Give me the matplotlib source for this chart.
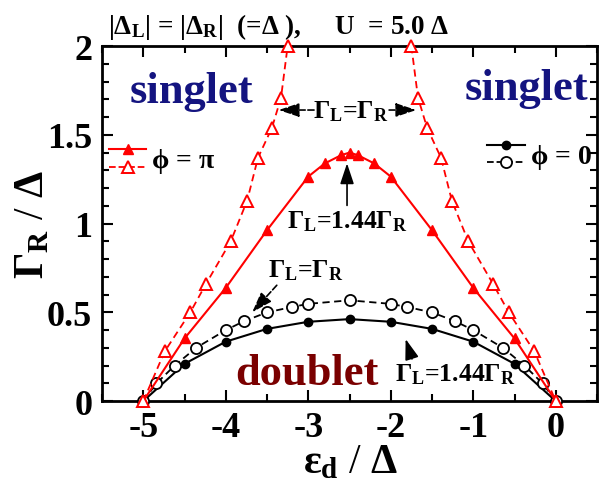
import matplotlib
matplotlib.use('Agg')
import matplotlib.pyplot as plt
import matplotlib.ticker as ticker
from matplotlib.lines import Line2D
from matplotlib.legend_handler import HandlerBase

plt.rcParams['font.family'] = ['Liberation Serif', 'DejaVu Serif']
plt.rcParams['font.weight'] = 'bold'
plt.rcParams['axes.unicode_minus'] = False
plt.rcParams['mathtext.fontset'] = 'custom'
plt.rcParams['mathtext.rm'] = 'Liberation Serif:bold'
plt.rcParams['mathtext.it'] = 'Liberation Serif:bold'
plt.rcParams['mathtext.bf'] = 'Liberation Serif:bold'

# phi = 0, Gamma_L = 1.44 Gamma_R
eps_c144 = [-5, -4.5, -4, -3.5, -3, -2.5, -2, -1.5, -1, -0.5, 0]
gam_c144 = [0, 0.21, 0.335, 0.407, 0.447, 0.462, 0.447, 0.407, 0.335, 0.21, 0]
# phi = 0, Gamma_L = Gamma_R
eps_c1 = [-5, -4.84, -4.62, -4.36, -4.0, -3.78, -3.5, -3.2, -3.0, -2.5,
          -2.0, -1.8, -1.5, -1.22, -1.0, -0.64, -0.38, -0.16, 0]
gam_c1 = [0, 0.1, 0.2, 0.3, 0.4, 0.45, 0.5, 0.53, 0.548, 0.568,
          0.548, 0.53, 0.5, 0.45, 0.4, 0.3, 0.2, 0.1, 0]
# phi = pi, Gamma_L = 1.44 Gamma_R
eps_t144 = [-5, -4.5, -4, -3.5, -3, -2.8, -2.6, -2.5, -2.4, -2.2, -2, -1.5, -1, -0.5, 0]
gam_t144 = [0, 0.353, 0.638, 0.963, 1.265, 1.339, 1.386, 1.40, 1.386, 1.339, 1.265,
            0.963, 0.638, 0.353, 0]
# phi = pi, Gamma_L = Gamma_R (two branches, both leave through the top)
eps_t1_lo = [-5, -4.74, -4.43, -4.24, -3.94, -3.74, -3.61, -3.44, -3.33, -3.25]
gam_t1_lo = [0, 0.28, 0.5, 0.66, 0.9, 1.13, 1.37, 1.54, 1.71, 2.0]
eps_t1_hi = [-1.75, -1.67, -1.56, -1.39, -1.26, -1.06, -0.76, -0.57, -0.26, 0]
gam_t1_hi = [2.0, 1.71, 1.54, 1.37, 1.13, 0.9, 0.66, 0.5, 0.28, 0]

xticks = [-5, -4, -3, -2, -1, 0]
yticks = [0, 0.5, 1, 1.5, 2]

RED = '#ff0000'
DASH = (0, (4, 2.5))


class StackedHandler(HandlerBase):
    # draws a tuple of lines on top of each other inside one legend entry
    def create_artists(self, legend, orig_handle, xdescent, ydescent,
                       width, height, fontsize, trans):
        out = []
        n = len(orig_handle)
        for i, h in enumerate(orig_handle):
            y = height * (n - i - 0.5) / n - ydescent
            ln = Line2D([-xdescent, width - xdescent], [y, y], color=h.get_color(),
                        linestyle=h.get_linestyle(), linewidth=h.get_linewidth())
            mk = Line2D([width / 2 - xdescent], [y], linestyle='none',
                        marker=h.get_marker(), markersize=h.get_markersize(),
                        markerfacecolor=h.get_markerfacecolor(),
                        markeredgecolor=h.get_markeredgecolor(),
                        markeredgewidth=h.get_markeredgewidth())
            for a in (ln, mk):
                a.set_transform(trans)
                out.append(a)
        return out


fig = plt.figure(figsize=(6.05, 4.81), dpi=100)
ax = fig.add_axes([0.1686, 0.164, 0.8182, 0.738])

l_c144, = ax.plot(eps_c144, gam_c144, color='black', lw=1.5, marker='o', ms=6,
                  mfc='black', mec='black', clip_on=False, zorder=3)
l_c1, = ax.plot(eps_c1, gam_c1, color='black', lw=1.3, ls=DASH, marker='o', ms=8,
                mfc='white', mec='black', mew=1.3, clip_on=False, zorder=3)
l_t144, = ax.plot(eps_t144, gam_t144, color=RED, lw=1.5, marker='^', ms=7,
                  mfc=RED, mec=RED, clip_on=False, zorder=4)
l_t1, = ax.plot(eps_t1_lo, gam_t1_lo, color=RED, lw=1.3, ls=DASH, marker='^', ms=9,
                mfc='white', mec=RED, mew=1.4, clip_on=False, zorder=5)
ax.plot(eps_t1_hi, gam_t1_hi, color=RED, lw=1.3, ls=DASH, marker='^', ms=9,
        mfc='white', mec=RED, mew=1.4, clip_on=False, zorder=5)

ax.set_xlim(-5.5, 0.5)
ax.set_ylim(0, 2)
ax.set_xticks(xticks)
ax.set_yticks(yticks)
ax.xaxis.set_minor_locator(ticker.MultipleLocator(0.5))
ax.yaxis.set_minor_locator(ticker.MultipleLocator(0.1))
ax.yaxis.set_major_formatter(ticker.FormatStrFormatter('%g'))
ax.tick_params(which='both', direction='in', top=True, right=True, width=1.5)
ax.tick_params(which='major', length=8, labelsize=26, pad=7)
ax.tick_params(which='minor', length=5)
for s in ax.spines.values():
    s.set_linewidth(2)

ax.set_xlabel(r'$\varepsilon_{\rm d}$ / $\Delta$', fontsize=30)
ax.set_ylabel(r'$\Gamma_{\rm R}$ / $\Delta$', fontsize=30)
ax.xaxis.set_label_coords(0.501, -0.118)
ax.yaxis.set_label_coords(-0.1, 0.5)

fig.text(108 / 605, 1 - 34 / 481,
         r'|$\Delta_{\rm L}$| = |$\Delta_{\rm R}$|  (=$\Delta$ ),     U  = 5.0 $\Delta$',
         fontsize=19.5, ha='left', va='baseline')

ax.text(-4.42, 1.683, 'singlet', color='#141480', fontsize=32, ha='center', va='baseline')
ax.text(-0.35, 1.70, 'singlet', color='#141480', fontsize=32, ha='center', va='baseline')
ax.text(-3.02, 0.095, 'doublet', color='#7a0000', fontsize=32, ha='center', va='baseline')

lbl_eq = r'$\Gamma_{\rm L}$=$\Gamma_{\rm R}$'
lbl_144 = r'$\Gamma_{\rm L}$=1.44$\Gamma_{\rm R}$'
arrow_dash = dict(arrowstyle='-|>,head_length=0.9,head_width=0.3', color='black',
                  lw=1.2, ls='--', mutation_scale=14, shrinkA=0, shrinkB=0)
arrow_solid = dict(arrowstyle='-|>,head_length=0.9,head_width=0.3', color='black',
                   lw=1.2, mutation_scale=14, shrinkA=0, shrinkB=0)

# double arrow between the two pi branches
ax.text(-2.48, 1.60, lbl_eq, fontsize=18.5, ha='center', va='baseline')
ax.annotate('', xy=(-3.36, 1.64), xytext=(-2.93, 1.64), arrowprops=arrow_dash)
ax.annotate('', xy=(-1.69, 1.64), xytext=(-2.02, 1.64), arrowprops=arrow_dash)

ax.annotate(lbl_144, xy=(-2.53, 1.34), xytext=(-2.53, 0.98), fontsize=18.5,
            ha='center', va='baseline', arrowprops=arrow_solid)
ax.annotate(lbl_eq, xy=(-3.68, 0.50), xytext=(-3.03, 0.70), fontsize=18.5,
            ha='center', va='baseline',
            arrowprops=dict(arrow_dash, relpos=(0.15, 0.0)))
ax.annotate(lbl_144, xy=(-1.82, 0.35), xytext=(-1.22, 0.115), fontsize=18.5,
            ha='center', va='baseline',
            arrowprops=dict(arrow_solid, relpos=(0.15, 1.0)))

leg_pi = ax.legend([(l_t144, l_t1)], [r'$\phi$ = $\pi$'], handler_map={tuple: StackedHandler()},
                   loc='center left', bbox_to_anchor=(0.014, 0.685), frameon=False,
                   fontsize=20, handlelength=1.35, handleheight=1.55, handletextpad=0.15,
                   borderpad=0, borderaxespad=0)
ax.add_artist(leg_pi)
ax.legend([(l_c144, l_c1)], [r'$\phi$ = 0'], handler_map={tuple: StackedHandler()},
          loc='center left', bbox_to_anchor=(0.778, 0.697), frameon=False,
          fontsize=20, handlelength=1.35, handleheight=1.55, handletextpad=0.2,
          borderpad=0, borderaxespad=0)

fig.savefig('out.png', dpi=100)
